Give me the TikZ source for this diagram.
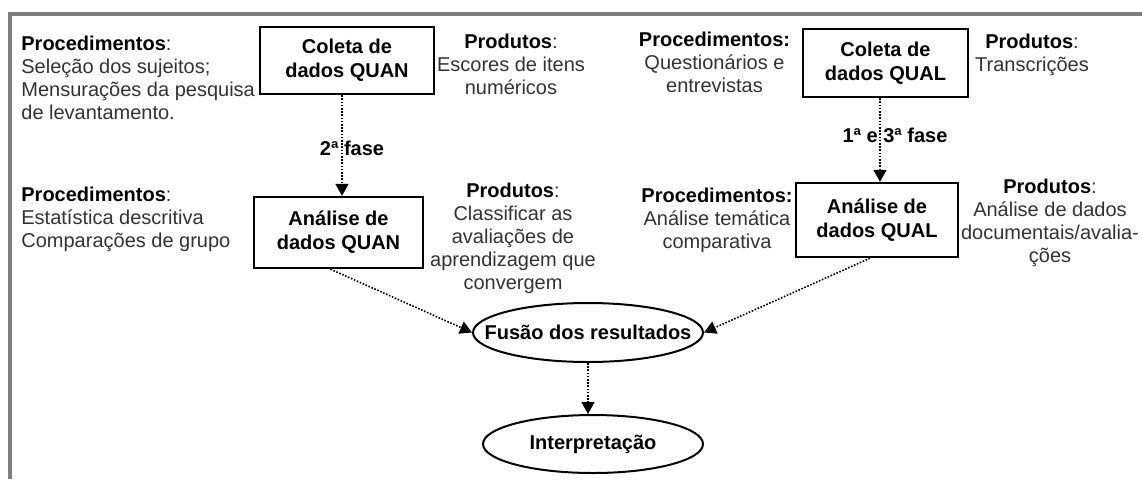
\documentclass[tikz,border=0pt]{standalone}
\usepackage{fontspec}
\setmainfont{Liberation Sans}
\usetikzlibrary{arrows.meta,shapes.geometric}
\definecolor{framegray}{RGB}{125,125,125}
\definecolor{txtgray}{RGB}{50,50,50}
\newcommand{\hdr}[1]{{\color{black}\bfseries #1}}
\begin{document}
\begin{tikzpicture}[x=0.5pt,y=-0.5pt,
  every node/.style={font=\fontsize{10pt}{11.5pt}\selectfont, inner sep=0pt},
  txt/.style={align=center, text=txtgray},
  txtl/.style={align=left, text=txtgray},
  lbl/.style={font=\fontsize{10pt}{11.5pt}\selectfont\bfseries},
  box/.style={draw, line width=1.2pt, fill=white, align=center,
    font=\fontsize{10pt}{12pt}\selectfont\bfseries},
  oval/.style={draw, ellipse, line width=1pt, fill=white,
    font=\fontsize{10pt}{12pt}\selectfont\bfseries},
  arr/.style={line width=0.8pt, dash pattern=on 0.8pt off 0.8pt,
    -{Triangle[length=6pt,width=6.5pt]}},
  frame/.style={line width=1.75pt, draw=framegray}]
\useasboundingbox (0,0) rectangle (1142,479);
\draw[frame] (10,479) -- (10,14) -- (1142,14);

% text blocks
\node[txtl, anchor=north west] (pqn1) at (21,35.5) {\hdr{Procedimentos}:\\Seleção dos sujeitos;\\Mensurações da pesquisa\\de levantamento.};
\node[txt, anchor=north] (prqn1) at (511,33.5) {\hdr{Produtos}:\\Escores de itens\\numéricos};
\node[txt, anchor=north] (pql1) at (714.5,31.5) {\hdr{Procedimentos:}\\Questionários e\\entrevistas};
\node[txt, anchor=north] (prql1) at (1032,33.5) {\hdr{Produtos}:\\Transcrições};
\node[txtl, anchor=north west] (pqn2) at (21,186.5) {\hdr{Procedimentos}:\\Estatística descritiva\\Comparações de grupo};
\node[txt, anchor=north] (prqn2) at (513,182.5) {\hdr{Produtos}:\\Classificar as\\avaliações de\\aprendizagem que\\convergem};
\node[txt, anchor=north] (pql2) at (717,187.5) {\hdr{Procedimentos:}\\Análise temática\\comparativa};
\node[txt, anchor=north] (prql2) at (1050,178.5) {\hdr{Produtos}:\\Análise de dados\\documentais/avalia-\\ções};

% boxes
\node[box, minimum width=87pt, minimum height=33.5pt] (cqn) at (347,60.5) {Coleta de\\dados QUAN};
\node[box, minimum width=82.5pt, minimum height=34pt] (cql) at (885.5,63) {Coleta de\\dados QUAL};
\node[box, minimum width=84.5pt, minimum height=35.5pt] (aqn) at (338.5,232.5) {Análise de\\dados QUAN};
\node[box, minimum width=81pt, minimum height=37pt] (aql) at (877,220) {Análise de\\dados QUAL};

% ellipses
\node[oval, minimum width=115pt, minimum height=29.5pt] (fus) at (588,332.5) {\makebox[0pt]{Fusão dos resultados}};
\node[oval, minimum width=110pt, minimum height=29pt] (int) at (593,444) {\makebox[0pt]{Interpretação}};

% phase labels
\node[lbl, anchor=base] (f2) at (352,155) {2ª fase};
\node[lbl, anchor=base] (f13) at (895,142) {1ª e 3ª fase};

% connectors
\draw[arr] ([xshift=-2.5pt]cqn.south) -- ([xshift=-2.5pt]cqn.south |- aqn.north);
\draw[arr] ([xshift=-2.75pt]cql.south) -- ([xshift=-2.75pt]cql.south |- aql.north);
\draw[arr] ([xshift=-4pt]aqn.south) -- (fus.west);
\draw[arr] ([xshift=-3.5pt]aql.south) -- (fus.east);
\draw[arr] (fus.south) -- (fus.south |- int.north);
\end{tikzpicture}
\end{document}
